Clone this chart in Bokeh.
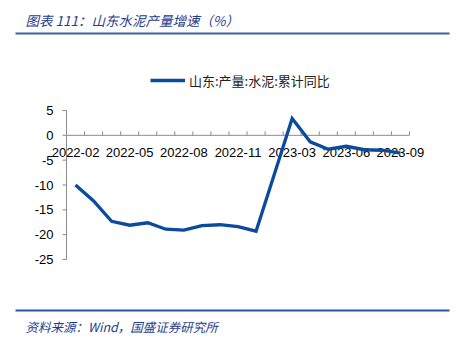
import numpy as np
from bokeh.plotting import figure
from bokeh.models import (ColumnDataSource, Range1d, Label, BoxAnnotation,
                          Legend, LegendItem)
from bokeh.core.properties import value
from bokeh.embed import file_html
from bokeh.resources import INLINE

# ---------------- data ----------------
categories = ["2022-02", "2022-03", "2022-04", "2022-05", "2022-06", "2022-07",
              "2022-08", "2022-09", "2022-10", "2022-11", "2022-12", "2023-02",
              "2023-03", "2023-04", "2023-05", "2023-06", "2023-07", "2023-08",
              "2023-09"]
series_name = "山东:产量:水泥:累计同比"
series_values = [-10.0, -13.2, -17.3, -18.1, -17.6, -18.9, -19.1, -18.2, -18.0,
                 -18.4, -19.3, -8.0, 3.4, -1.3, -2.8, -2.2, -2.9, -3.0, -3.6]
x_tick_labels = ["2022-02", "2022-05", "2022-08", "2022-11", "2023-03",
                 "2023-06", "2023-09"]
y_ticks = [-25, -20, -15, -10, -5, 0, 5]
y_tick_labels = ["-25", "-20", "-15", "-10", "-5", "0", "5"]
title_text = "图表 111：山东水泥产量增速（%）"
source_text = "资料来源：Wind，国盛证券研究所"

# ---------------- layout (pixels) ----------------
W, H = 463, 346
AX_L, AX_R = 66, 409          # pixel span of the category axis
AX_T, AX_B = 110, 259         # pixel span of y from max to min tick
ymin, ymax = min(y_ticks), max(y_ticks)
n = len(categories)
xpu = (AX_R - AX_L) / n                  # px per category
ypu = (AX_B - AX_T) / (ymax - ymin)      # px per unit

def px_x(px):
    return -0.5 + (px - AX_L) / xpu

def px_y(py):
    return ymax - (py - AX_T) / ypu

p = figure(width=W, height=H, output_backend="svg", toolbar_location=None,
           x_range=Range1d(px_x(0), px_x(W)),
           y_range=Range1d(px_y(H), px_y(0)),
           min_border=0, x_axis_type=None, y_axis_type=None)
p.grid.visible = False
p.outline_line_color = None
p.background_fill_color = "white"
p.border_fill_color = "white"

axis_color = "#8c8c8c"
tick_font = "Liberation Sans"

idx = np.arange(n)
# y axis line and ticks
p.segment(x0=[-0.5], y0=[ymin], x1=[-0.5], y1=[ymax], line_color=axis_color, line_width=1)
p.segment(x0=[-0.5 - 4 / xpu] * len(y_ticks), y0=y_ticks, x1=[-0.5] * len(y_ticks),
          y1=y_ticks, line_color=axis_color, line_width=1)
p.text(x=[-0.5] * len(y_ticks), y=y_ticks, text=y_tick_labels, text_align="right",
       text_baseline="middle", x_offset=-13, text_font=value(tick_font),
       text_font_size="13px", text_color="#000000")

# x axis line at zero and boundary ticks pointing up
p.segment(x0=[-0.5], y0=[0], x1=[n - 0.5], y1=[0], line_color=axis_color, line_width=1)
bounds = np.arange(n + 1) - 0.5
p.segment(x0=bounds, y0=np.zeros(n + 1), x1=bounds, y1=np.full(n + 1, 4 / ypu),
          line_color=axis_color, line_width=1)

# x tick labels
lab_x = [categories.index(c) for c in x_tick_labels]
p.text(x=lab_x, y=[0] * len(lab_x), text=x_tick_labels, text_align="center",
       text_baseline="middle", y_offset=17, text_font=value(tick_font),
       text_font_size="13px", text_color="#000000")

# data line
src = ColumnDataSource(dict(x=idx, y=series_values))
line = p.line("x", "y", source=src, line_color="#0a4a9f", line_width=3.3,
              line_join="miter")

legend = Legend(items=[LegendItem(label=series_name, renderers=[line])],
                location=(150, H - 90), orientation="horizontal",
                padding=0, margin=0, border_line_color=None,
                background_fill_alpha=0, glyph_width=35, glyph_height=20,
                label_standoff=4, label_text_font="Noto Sans CJK SC",
                label_text_font_size="13px", label_text_color="#222222")
p.add_layout(legend)

# title and source
p.add_layout(Label(x=px_x(25), y=px_y(19), text=title_text, text_baseline="middle",
                   text_font="Noto Sans CJK SC", text_font_style="italic",
                   text_font_size="13.5px", text_color="#1f3d8c"))
p.add_layout(BoxAnnotation(left=px_x(15), right=px_x(449), top=px_y(32), bottom=px_y(34),
                           fill_color="#3363a6", fill_alpha=1, line_color=None))
p.add_layout(BoxAnnotation(left=px_x(15), right=px_x(449), top=px_y(309), bottom=px_y(311),
                           fill_color="#2556a3", fill_alpha=1, line_color=None))
p.add_layout(Label(x=px_x(25), y=px_y(326), text=source_text, text_baseline="middle",
                   text_font="Noto Sans CJK SC", text_font_style="italic",
                   text_font_size="12.5px", text_color="#1f3d8c"))

open("out.html", "w").write(file_html(p, INLINE))
